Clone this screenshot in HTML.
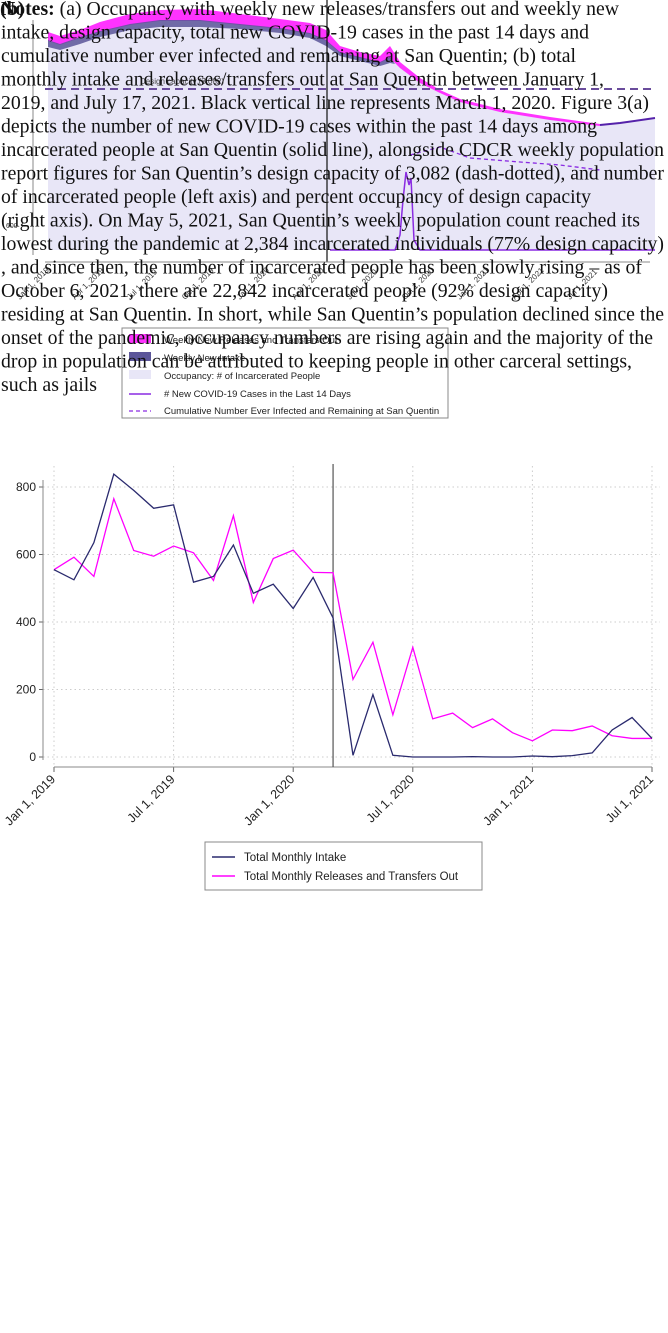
<!DOCTYPE html>
<html><head><meta charset="utf-8"><style>
html,body{margin:0;padding:0;background:#fff;width:668px;height:1333px;overflow:hidden}
svg{position:absolute;left:0;top:0}
</style></head><body>
<svg width="668" height="1333" font-family="Liberation Sans, sans-serif">
 <g>
  <polygon fill="#e8e6f7" points="48,40 60,44 80,37 100,31 130,24 160,20 200,20 240,24 280,28 310,33 326,40 340,52 360,57 380,62 390,57 400,67 420,82 440,92 460,101 500,111 550,119 600,125 620,123 655,118 655,250 48,250"/>
  <polygon fill="#ff33ff" points="48,32 60,36 80,30 100,22 130,14 160,10 200,9 240,14 280,19 310,23 326,30 340,46 360,52 380,56 390,46 400,62 420,78 440,90 460,99 500,109 550,117 600,124 600,126 550,120 500,112 460,102 440,93 420,83 400,68 390,58 380,63 360,58 340,53 326,41 310,34 280,29 240,25 200,21 160,21 130,25 100,32 80,38 60,45 48,41"/>
  <polygon fill="#5b5599" opacity="0.85" points="48,40 60,44 80,37 100,31 130,24 160,20 200,20 240,24 280,28 310,33 326,40 340,52 360,57 380,62 390,57 395,64 390,63 380,66 360,61 340,56 326,46 310,38 280,33 240,29 200,27 160,27 130,30 100,37 80,44 60,50 48,47"/>
  <polyline fill="none" stroke="#5522aa" stroke-width="2" points="600,125 620,123 655,118"/>
  <line x1="45" y1="89" x2="655" y2="89" stroke="#6a4c9c" stroke-width="2" stroke-dasharray="8,5"/>
  <polyline fill="none" stroke="#8a2be2" stroke-width="1.5" points="330,250 395,250 400,235 403,200 406,172 409,185 411,178 414,240 420,250 655,250"/>
  <polyline fill="none" stroke="#8a2be2" stroke-width="1.3" stroke-dasharray="4,3" points="410,155 440,147 470,158 520,162 560,165 600,170"/>
  <line x1="327" y1="0" x2="327" y2="262" stroke="#111" stroke-width="1.2"/>
  <line x1="45" y1="262" x2="650" y2="262" stroke="#888"/>
  <line x1="33" y1="20" x2="33" y2="255" stroke="#888"/>
  <text x="6" y="228" font-size="7" fill="#333">600</text>
  <g font-size="8" fill="#333">
   <text x="20" y="300" transform="rotate(-45 20 300)">Jan 1, 2019</text>
   <text x="75" y="300" transform="rotate(-45 75 300)">Apr 1, 2019</text>
   <text x="130" y="300" transform="rotate(-45 130 300)">Jul 1, 2019</text>
   <text x="185" y="300" transform="rotate(-45 185 300)">Oct 1, 2019</text>
   <text x="240" y="300" transform="rotate(-45 240 300)">Jan 1, 2020</text>
   <text x="295" y="300" transform="rotate(-45 295 300)">Apr 1, 2020</text>
   <text x="350" y="300" transform="rotate(-45 350 300)">Jul 1, 2020</text>
   <text x="405" y="300" transform="rotate(-45 405 300)">Oct 1, 2020</text>
   <text x="460" y="300" transform="rotate(-45 460 300)">Jan 1, 2021</text>
   <text x="515" y="300" transform="rotate(-45 515 300)">Apr 1, 2021</text>
   <text x="570" y="300" transform="rotate(-45 570 300)">Jul 1, 2021</text>
  </g>
  <text x="140" y="84" font-size="8" fill="#444">Design capacity (3,082)</text>
  <g>
   <rect x="122" y="328" width="326" height="90" fill="#fff" stroke="#888"/>
   <rect x="129" y="334" width="22" height="9" fill="#ff33ff"/>
   <rect x="129" y="352" width="22" height="9" fill="#5b5599"/>
   <rect x="129" y="370" width="22" height="9" fill="#e8e6f7"/>
   <line x1="129" y1="394" x2="151" y2="394" stroke="#8a2be2" stroke-width="1.5"/>
   <line x1="129" y1="411" x2="151" y2="411" stroke="#8a2be2" stroke-width="1.3" stroke-dasharray="4,3"/>
   <g font-size="9.5" fill="#222">
    <text x="164" y="343">Weekly New Releases and Transfers Out</text>
    <text x="164" y="361">Weekly New Intake</text>
    <text x="164" y="379">Occupancy: # of Incarcerated People</text>
    <text x="164" y="397">#&#160;New COVID-19 Cases in the Last 14 Days</text>
    <text x="164" y="414">Cumulative Number Ever Infected and Remaining at San Quentin</text>
   </g>
  </g>
 </g>
 <g font-family="Liberation Serif, serif" font-size="20" fill="#111">
  <text x="1" y="15" textLength="618" lengthAdjust="spacingAndGlyphs"><tspan font-weight="bold">Notes:</tspan> (a) Occupancy with weekly new releases/transfers out and weekly new</text>
  <text x="1" y="38.5" textLength="588" lengthAdjust="spacingAndGlyphs">intake, design capacity, total new COVID-19 cases in the past 14 days and</text>
  <text x="1" y="62" textLength="575" lengthAdjust="spacingAndGlyphs">cumulative number ever infected and remaining at San Quentin; (b) total</text>
  <text x="1" y="85.5" textLength="603" lengthAdjust="spacingAndGlyphs">monthly intake and releases/transfers out at San Quentin between January 1,</text>
  <text x="1" y="109" textLength="648" lengthAdjust="spacingAndGlyphs">2019, and July 17, 2021. Black vertical line represents March 1, 2020. Figure 3(a)</text>
  <text x="1" y="132.5" textLength="596" lengthAdjust="spacingAndGlyphs">depicts the number of new COVID-19 cases within the past 14 days among</text>
  <text x="1" y="156" textLength="663" lengthAdjust="spacingAndGlyphs">incarcerated people at San Quentin (solid line), alongside CDCR weekly population</text>
  <text x="1" y="179.5" textLength="663" lengthAdjust="spacingAndGlyphs">report figures for San Quentin’s design capacity of 3,082 (dash-dotted), and number</text>
  <text x="1" y="203" textLength="590" lengthAdjust="spacingAndGlyphs">of incarcerated people (left axis) and percent occupancy of design capacity</text>
  <text x="1" y="226.5" textLength="639" lengthAdjust="spacingAndGlyphs">(right axis). On May 5, 2021, San Quentin’s weekly population count reached its</text>
  <text x="1" y="250" textLength="663" lengthAdjust="spacingAndGlyphs">lowest during the pandemic at 2,384 incarcerated individuals (77% design capacity)</text>
  <text x="1" y="273.5" textLength="641" lengthAdjust="spacingAndGlyphs">, and since then, the number of incarcerated people has been slowly rising – as of</text>
  <text x="1" y="297" textLength="607" lengthAdjust="spacingAndGlyphs">October 6, 2021, there are 22,842 incarcerated people (92% design capacity)</text>
  <text x="1" y="320.5" textLength="663" lengthAdjust="spacingAndGlyphs">residing at San Quentin. In short, while San Quentin’s population declined since the</text>
  <text x="1" y="344" textLength="652" lengthAdjust="spacingAndGlyphs">onset of the pandemic, occupancy numbers are rising again and the majority of the</text>
  <text x="1" y="367.5" textLength="631" lengthAdjust="spacingAndGlyphs">drop in population can be attributed to keeping people in other carceral settings,</text>
  <text x="1" y="391" textLength="96" lengthAdjust="spacingAndGlyphs">such as jails</text>
 </g>
 <text x="0" y="15" font-family="Liberation Serif, serif" font-size="20" font-weight="bold" fill="#111">(b)</text>
 <g id="chartB"></g>
</svg>
<script>
const months = ["2019-01","2019-02","2019-03","2019-04","2019-05","2019-06","2019-07","2019-08","2019-09","2019-10","2019-11","2019-12","2020-01","2020-02","2020-03","2020-04","2020-05","2020-06","2020-07","2020-08","2020-09","2020-10","2020-11","2020-12","2021-01","2021-02","2021-03","2021-04","2021-05","2021-06","2021-07"];
const intake = [555,525,635,838,790,737,747,518,535,628,485,512,440,532,412,5,185,5,0,0,0,1,0,0,3,1,4,12,80,117,55];
const releases = [555,592,535,765,612,595,625,605,523,715,458,588,613,547,546,230,340,125,325,113,130,87,113,72,48,80,78,92,63,55,55];
const yTicks = [0,200,400,600,800];
const xTickLabels = ["Jan 1, 2019","Jul 1, 2019","Jan 1, 2020","Jul 1, 2020","Jan 1, 2021","Jul 1, 2021"];
const xTickIdx = [0,6,12,18,24,30];
const markerIdx = 14.0;

const NS="http://www.w3.org/2000/svg";
const g=document.getElementById('chartB');
const X0=54,X1=652,Y0=757,Y800=487;
const xs=i=>X0+(X1-X0)*i/(months.length-1);
const ys=v=>Y0+(Y800-Y0)*v/800;
function mk(t,a){const e=document.createElementNS(NS,t);for(const k in a)e.setAttribute(k,a[k]);g.appendChild(e);return e;}
yTicks.forEach(v=>{
 const l=mk('line',{x1:43,x2:660,y1:ys(v),y2:ys(v),stroke:'#ccc','stroke-dasharray':'1.5,3'});
 
 
 const t=mk('line',{x1:39,x2:43,y1:ys(v),y2:ys(v),stroke:'#666'});
 
 
 const tx=mk('text',{x:36,y:ys(v)+4,'text-anchor':'end','font-size':'12',fill:'#222'});
 tx.textContent=v;
 
 
});
xTickIdx.forEach((idx,k)=>{
 const x=xs(idx);
 const l=mk('line',{x1:x,x2:x,y1:466,y2:767,stroke:'#ccc','stroke-dasharray':'1.5,3'});
 
 
 const t=mk('line',{x1:x,x2:x,y1:767,y2:772,stroke:'#666'});
 
 
 const tx=mk('text',{x:x+2,y:780,'text-anchor':'end','font-size':'12.5',fill:'#222',transform:`rotate(-45 ${x+2} 780)`});
 tx.textContent=xTickLabels[k];
 
 
});
let a=mk('line',{x1:43,x2:43,y1:480,y2:760,stroke:'#888'});


a=mk('line',{x1:X0,x2:X1,y1:767,y2:767,stroke:'#888'});


const vx=xs(markerIdx);
a=mk('line',{x1:vx,x2:vx,y1:464,y2:767,stroke:'#555','stroke-width':1.2});


const p1=mk('polyline',{fill:'none',stroke:'#ff00ff','stroke-width':1.3,points:releases.map((v,i)=>xs(i)+','+ys(v)).join(' ')});


const p2=mk('polyline',{fill:'none',stroke:'#2a2a6e','stroke-width':1.3,points:intake.map((v,i)=>xs(i)+','+ys(v)).join(' ')});


const lg=mk('rect',{x:205,y:842,width:277,height:48,fill:'#fff',stroke:'#888'});


[[857,'#2a2a6e','Total Monthly Intake'],[876,'#ff00ff','Total Monthly Releases and Transfers Out']].forEach(([y,c,s])=>{
 const l=mk('line',{x1:212,x2:235,y1:y,y2:y,stroke:c,'stroke-width':1.5});
 
 
 const t=mk('text',{x:244,y:y+4,'font-size':'11.5',fill:'#222'});
 t.textContent=s;
 
 
});
</script>
</body></html>
